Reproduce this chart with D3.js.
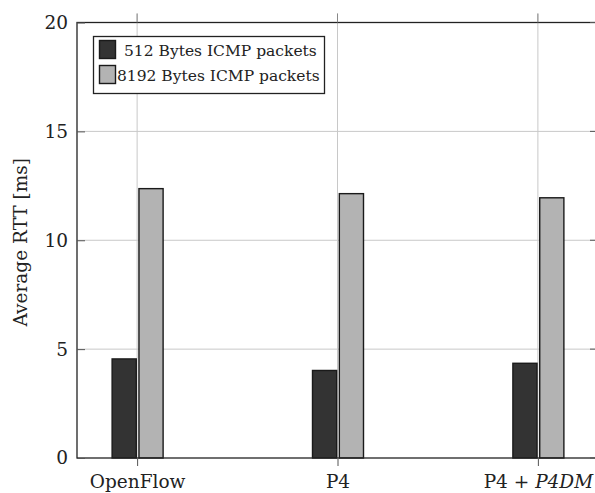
<!DOCTYPE html>
<html><head><meta charset="utf-8">
<script src="https://cdn.jsdelivr.net/npm/d3@7"></script>
<style>body{margin:0;background:#fff}svg{display:block}text{font-family:"DejaVu Serif",serif;fill:#222}</style>
</head><body>
<script>
const categories = ["OpenFlow", "P4", "P4 + P4DM"];
const seriesNames = ["512 Bytes ICMP packets", "8192 Bytes ICMP packets"];
const series512 = [4.55, 4.02, 4.35];
const series8192 = [12.37, 12.14, 11.95];
const yTicks = [0, 5, 10, 15, 20];
const colors = ["#333333", "#b3b3b3"];

const W = 595, H = 493;
const m = {left: 77, top: 22.5, bottom: 458, right: 598};
const svg = d3.select("body").append("svg").attr("width", W).attr("height", H);

const x = d3.scalePoint().domain(categories).range([m.left, m.right]).padding(0.3);
const y = d3.scaleLinear().domain([0, 20]).range([m.bottom, m.top]);
const xs = d3.scaleBand().domain(seriesNames).range([-25, 26]).paddingInner(0.1);

// grid
svg.append("g").selectAll("line.h").data(yTicks.slice(1, -1)).join("line")
  .attr("x1", m.left).attr("x2", m.right).attr("y1", d => y(d)).attr("y2", d => y(d))
  .attr("stroke", "#c8c8c8").attr("stroke-width", 1);
svg.append("g").selectAll("line.v").data(categories).join("line")
  .attr("x1", d => x(d)).attr("x2", d => x(d)).attr("y1", m.top - 9).attr("y2", m.bottom)
  .attr("stroke", "#c8c8c8").attr("stroke-width", 1);

// bars
const data = categories.map((c, i) => ({c, vals: [series512[i], series8192[i]]}));
const g = svg.append("g");
data.forEach(d => {
  d.vals.forEach((v, j) => {
    g.append("rect")
      .attr("x", x(d.c) + xs(seriesNames[j]))
      .attr("width", xs.bandwidth())
      .attr("y", y(v)).attr("height", y(0) - y(v))
      .attr("fill", colors[j]).attr("stroke", "#1a1a1a").attr("stroke-width", 1.4);
  });
});

// frame
svg.append("rect").attr("x", m.left).attr("y", m.top).attr("width", m.right - m.left).attr("height", m.bottom - m.top)
  .attr("fill", "none").attr("stroke", "#222").attr("stroke-width", 1.3);

// y axis
const yAxis = d3.axisLeft(y).tickValues(yTicks).tickSize(-8).tickPadding(9).tickFormat(d3.format("d"));
const ya = svg.append("g").attr("transform", `translate(${m.left},0)`).call(yAxis);
ya.select(".domain").remove();
ya.selectAll(".tick line").attr("stroke", "#555");
ya.selectAll("text").style("font-size", "18.5px").attr("fill", "#222").style("font-family", "DejaVu Serif");
// right inward ticks
svg.append("g").selectAll("line").data(yTicks).join("line")
  .attr("x1", m.right - 8).attr("x2", m.right).attr("y1", d => y(d)).attr("y2", d => y(d)).attr("stroke", "#555");

// x axis
const xAxis = d3.axisBottom(x).tickSize(8).tickPadding(4).tickFormat("");
const xa = svg.append("g").attr("transform", `translate(0,${m.bottom})`).call(xAxis);
xa.select(".domain").remove();
xa.selectAll(".tick line").attr("stroke", "#555");
xa.selectAll(".tick").append("text").attr("y", 30).attr("text-anchor", "middle")
  .style("font-size", "18.5px").attr("fill", "#222")
  .each(function(d) {
    const t = d3.select(this);
    if (d === "P4 + P4DM") {
      t.append("tspan").text("P4 + ");
      t.append("tspan").attr("font-style", "italic").text("P4DM");
    } else t.text(d);
  });
// top outward ticks
svg.append("g").selectAll("line").data(categories).join("line")
  .attr("x1", d => x(d)).attr("x2", d => x(d)).attr("y1", m.top - 9).attr("y2", m.top).attr("stroke", "#888");

// y label
svg.append("text").attr("transform", `translate(27,${(m.top + m.bottom) / 2 + 2}) rotate(-90)`)
  .attr("text-anchor", "middle").style("font-size", "18.5px").text("Average RTT [ms]");

// legend
const lg = svg.append("g");
lg.append("rect").attr("x", 93.5).attr("y", 36.5).attr("width", 231).attr("height", 57)
  .attr("fill", "#fff").attr("stroke", "#222").attr("stroke-width", 1.3);
seriesNames.forEach((s, i) => {
  lg.append("rect").attr("x", 99.5).attr("y", 40.5 + i * 25).attr("width", 16).attr("height", 18)
    .attr("fill", colors[i]).attr("stroke", "#1a1a1a").attr("stroke-width", 1.4);
  lg.append("text").attr("x", i === 0 ? 124 : 117).attr("y", 56 + i * 25)
    .style("font-size", "15.5px").text(s);
});
</script>
</body></html>
